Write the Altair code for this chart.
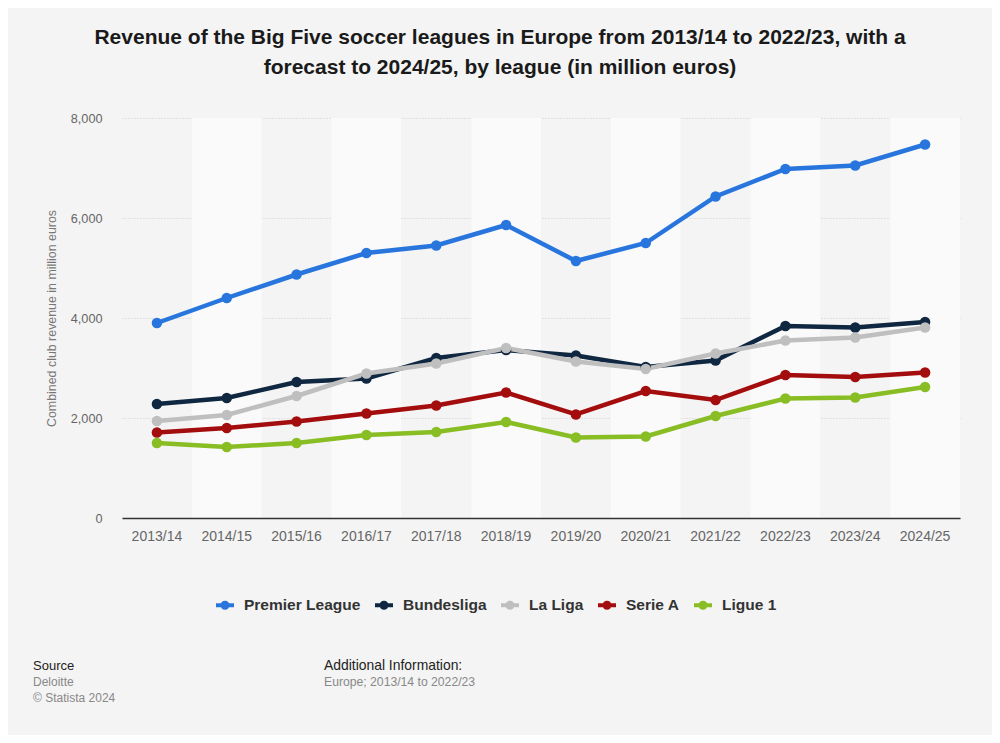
import altair as alt
import pandas as pd

seasons = ["2013/14", "2014/15", "2015/16", "2016/17", "2017/18", "2018/19",
           "2019/20", "2020/21", "2021/22", "2022/23", "2023/24", "2024/25"]
leagues = ["Premier League", "Bundesliga", "La Liga", "Serie A", "Ligue 1"]
premier_league = [3900, 4400, 4870, 5300, 5450, 5860, 5140, 5500, 6430, 6980, 7050, 7470]
bundesliga = [2280, 2400, 2720, 2790, 3200, 3360, 3250, 3020, 3150, 3840, 3810, 3920]
la_liga = [1940, 2060, 2440, 2890, 3090, 3400, 3130, 2980, 3290, 3550, 3610, 3810]
serie_a = [1710, 1800, 1930, 2090, 2250, 2510, 2070, 2540, 2360, 2860, 2820, 2910]
ligue_1 = [1500, 1420, 1500, 1660, 1720, 1920, 1610, 1630, 2040, 2390, 2410, 2620]
colors = ["#2876dd", "#0f2740", "#bfbfbf", "#a30d0d", "#88bd24"]

title_lines = ["Revenue of the Big Five soccer leagues in Europe from 2013/14 to 2022/23, with a",
               "forecast to 2024/25, by league (in million euros)"]
y_title = "Combined club revenue in million euros"
source_head = "Source"
source_lines = ["Deloitte", "© Statista 2024"]
info_head = "Additional Information:"
info_lines = ["Europe; 2013/14 to 2022/23"]

series = [premier_league, bundesliga, la_liga, serie_a, ligue_1]
rows = []
for lg, vals in zip(leagues, series):
    for s, v in zip(seasons, vals):
        rows.append({"season": s, "league": lg, "revenue": v})
df = pd.DataFrame(rows)
df["order"] = df["league"].map({l: i for i, l in enumerate(leagues)})

band_df = pd.DataFrame({"season": seasons[1::2]})

FONT = "Liberation Sans"
W, H = 838, 400
PL, PT = 114, 110

xscale = alt.Scale(type="band", domain=seasons, paddingInner=0, paddingOuter=0)
cscale = alt.Scale(domain=leagues, range=colors)

xaxis = alt.Axis(title=None, labelAngle=0, ticks=False, domain=True,
                 domainColor="#333333", domainWidth=1.3,
                 labelColor="#666666", labelFont=FONT, labelFontSize=14,
                 labelPadding=11, grid=False)

bands = alt.Chart(band_df).mark_rect(fill="#fafafa").encode(
    x=alt.X("season:N", scale=xscale, axis=xaxis),
    y=alt.value(0), y2=alt.value(H),
)

base = alt.Chart(df)
xenc = alt.X("season:N", scale=xscale, bandPosition=0.5, axis=xaxis)
yenc = alt.Y("revenue:Q", scale=alt.Scale(domain=[0, 8000], nice=False),
             axis=alt.Axis(title=y_title, values=[0, 2000, 4000, 6000, 8000], format=",.0f",
                           ticks=False, domain=False, grid=True, gridColor="#cfcfcf",
                           gridDash=[1, 2], gridWidth=1,
                           labelColor="#666666", labelFont=FONT, labelFontSize=12.7,
                           labelPadding=20, titleColor="#777777", titleFont=FONT,
                           titleFontSize=12.4, titleFontWeight="normal", titlePadding=12))

legend_path = ("M-1,-0.22 L1,-0.22 L1,0.22 L-1,0.22 Z "
               "M-0.5,0 A0.5,0.5 0 1,1 0.5,0 A0.5,0.5 0 1,1 -0.5,0 Z")
legend = alt.Legend(title=None, orient="none", direction="horizontal",
                    legendX=94, legendY=478, symbolType=legend_path,
                    symbolSize=324, symbolStrokeWidth=0,
                    labelFont=FONT, labelFontSize=15.5,
                    labelFontWeight="bold", labelColor="#333333",
                    labelOffset=10, columnPadding=14, padding=0,
                    symbolOpacity=1)

lines = base.mark_line(strokeWidth=4.5).encode(
    x=xenc, y=yenc,
    color=alt.Color("league:N", scale=cscale, sort=leagues, legend=legend),
    detail="league:N",
    order="order:Q",
)

points = base.mark_point(filled=True, size=110, opacity=1).encode(
    x=xenc, y=yenc,
    color=alt.Color("league:N", scale=cscale, sort=leagues, legend=legend),
)


def text_layer(txt, x, y, size, color, weight="normal", align="left"):
    return alt.Chart(pd.DataFrame({"t": [txt]})).mark_text(
        font=FONT, fontSize=size, color=color, fontWeight=weight, align=align,
        baseline="middle").encode(text="t:N", x=alt.value(x), y=alt.value(y))


texts = []
texts.append(text_layer(title_lines[0], 500 - 8 - PL, 38 - 8 - PT, 21, "#1a1a1a", "bold", "center"))
texts.append(text_layer(title_lines[1], 500 - 8 - PL, 68 - 8 - PT, 21, "#1a1a1a", "bold", "center"))
texts.append(text_layer(source_head, 33 - 8 - PL, 666 - 8 - PT, 13, "#222222"))
for i, s in enumerate(source_lines):
    texts.append(text_layer(s, 33 - 8 - PL, 682 - 8 - PT + 15.5 * i, 12, "#888888"))
texts.append(text_layer(info_head, 324 - 8 - PL, 666 - 8 - PT, 13.9, "#222222"))
for i, s in enumerate(info_lines):
    texts.append(text_layer(s, 324 - 8 - PL, 682 - 8 - PT + 15.5 * i, 12.2, "#888888"))

chart = alt.layer(bands, lines, points, *texts).resolve_scale(color="shared").properties(
    width=W, height=H,
    autosize=alt.AutoSizeParams(type="none"),
    padding={"left": PL, "top": PT, "right": 1000 - 16 - PL - W, "bottom": 743 - 16 - PT - H},
    background="#f4f4f4",
).configure_view(stroke=None, fill="#f4f4f4")

chart.save("out.html", embed_options={"renderer": "svg", "actions": False})
